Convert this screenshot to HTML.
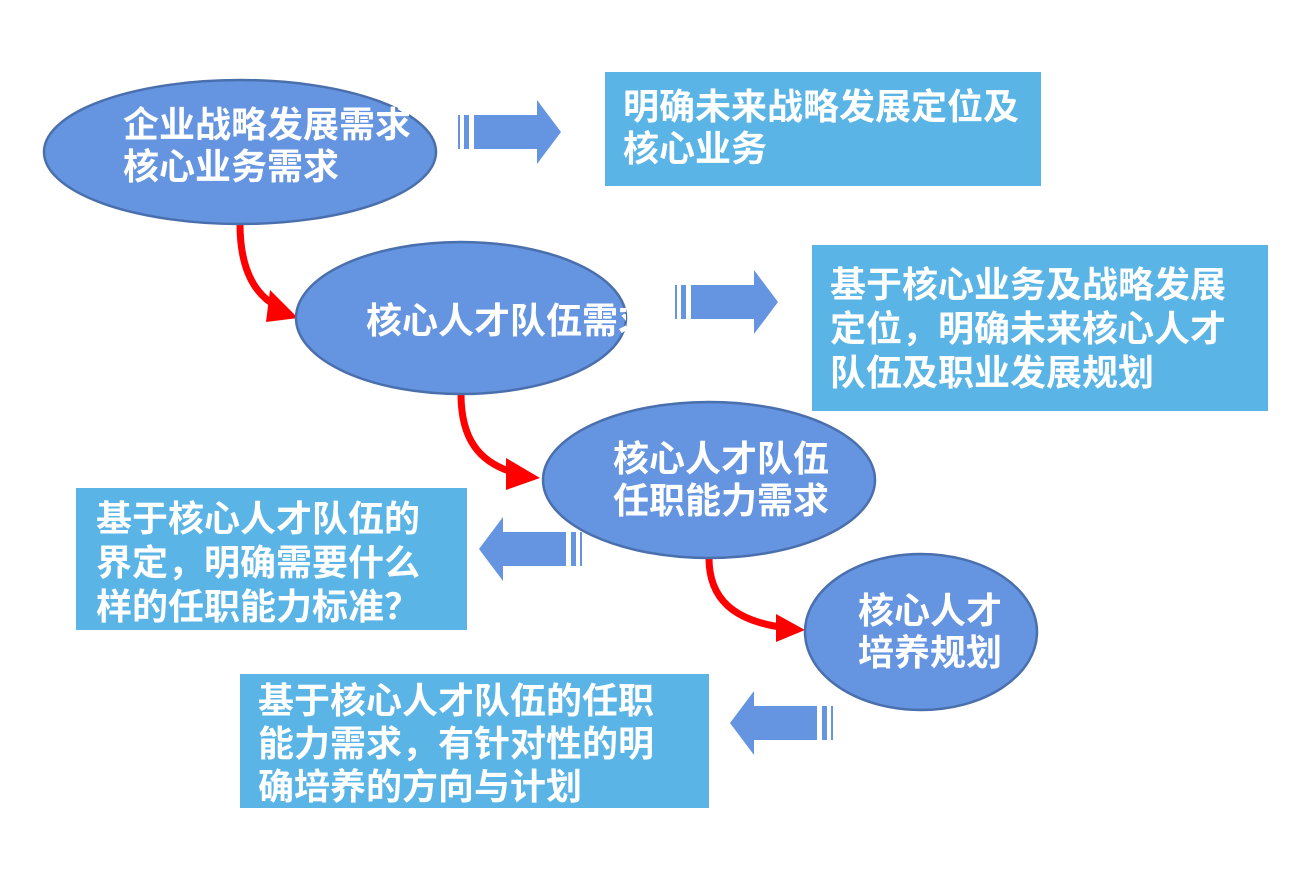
<!DOCTYPE html>
<html><head><meta charset="utf-8"><style>
body{margin:0;background:#fff;}
svg text{font-family:"Liberation Sans","Noto Sans CJK SC",sans-serif;font-weight:bold;fill:#fff;font-size:36px;}
</style></head><body>
<svg width="1312" height="874" viewBox="0 0 1312 874" xmlns="http://www.w3.org/2000/svg">
<defs>
<g id="ar">
<rect x="0" y="15" width="2" height="34" fill="#6594e0"/>
<rect x="6" y="15" width="5" height="34" fill="#6594e0"/>
<rect x="16" y="15" width="64" height="34" fill="#6594e0"/>
<polygon points="79,0 103,32 79,64" fill="#6594e0"/>
</g>
</defs>
<rect x="605" y="72" width="436" height="114" fill="#5ab4e5"/>
<rect x="812" y="245" width="456" height="166" fill="#5ab4e5"/>
<rect x="76" y="488" width="391" height="142" fill="#5ab4e5"/>
<rect x="240" y="674" width="469" height="134" fill="#5ab4e5"/>
<use href="#ar" x="458" y="100"/>
<use href="#ar" x="675" y="270"/>
<use href="#ar" transform="translate(582,517) scale(-1,1)"/>
<use href="#ar" transform="translate(833,691) scale(-1,1)"/>
<g fill="none" stroke="#ff0000" stroke-width="7">
<path d="M240,224 C240,270 255,295 278,307"/>
<path d="M461,394 C461,440 480,462 512,472"/>
<path d="M709,558 C709,600 735,620 780,627"/>
</g>
<g fill="#ff0000">
<polygon points="270,290 298,318 266,322"/>
<polygon points="506,458 540,478 506,490"/>
<polygon points="776,614 805,630 776,642"/>
</g>
<g fill="#6594e0" stroke="#4a6fad" stroke-width="2.5">
<ellipse cx="240" cy="152" rx="196" ry="72"/>
<ellipse cx="461" cy="318" rx="165" ry="76"/>
<ellipse cx="709" cy="480" rx="166" ry="78"/>
<ellipse cx="921" cy="632" rx="116" ry="78"/>
</g>
<text x="123" y="137">企业战略发展需求</text>
<text x="123" y="179">核心业务需求</text>
<svg x="296" y="242" width="330" height="152" overflow="hidden"><text x="70" y="91">核心人才队伍需求</text></svg>
<text x="613" y="471">核心人才队伍</text>
<text x="613" y="513">任职能力需求</text>
<text x="858" y="623">核心人才</text>
<text x="858" y="665">培养规划</text>
<text x="623" y="119">明确未来战略发展定位及</text>
<text x="623" y="161">核心业务</text>
<text x="830" y="297">基于核心业务及战略发展</text>
<text x="830" y="341">定位，明确未来核心人才</text>
<text x="830" y="385">队伍及职业发展规划</text>
<text x="96" y="531">基于核心人才队伍的</text>
<text x="96" y="575">界定，明确需要什么</text>
<text x="96" y="619">样的任职能力标准？</text>
<text x="258" y="713">基于核心人才队伍的任职</text>
<text x="258" y="756">能力需求，有针对性的明</text>
<text x="258" y="799">确培养的方向与计划</text>
</svg>
</body></html>
